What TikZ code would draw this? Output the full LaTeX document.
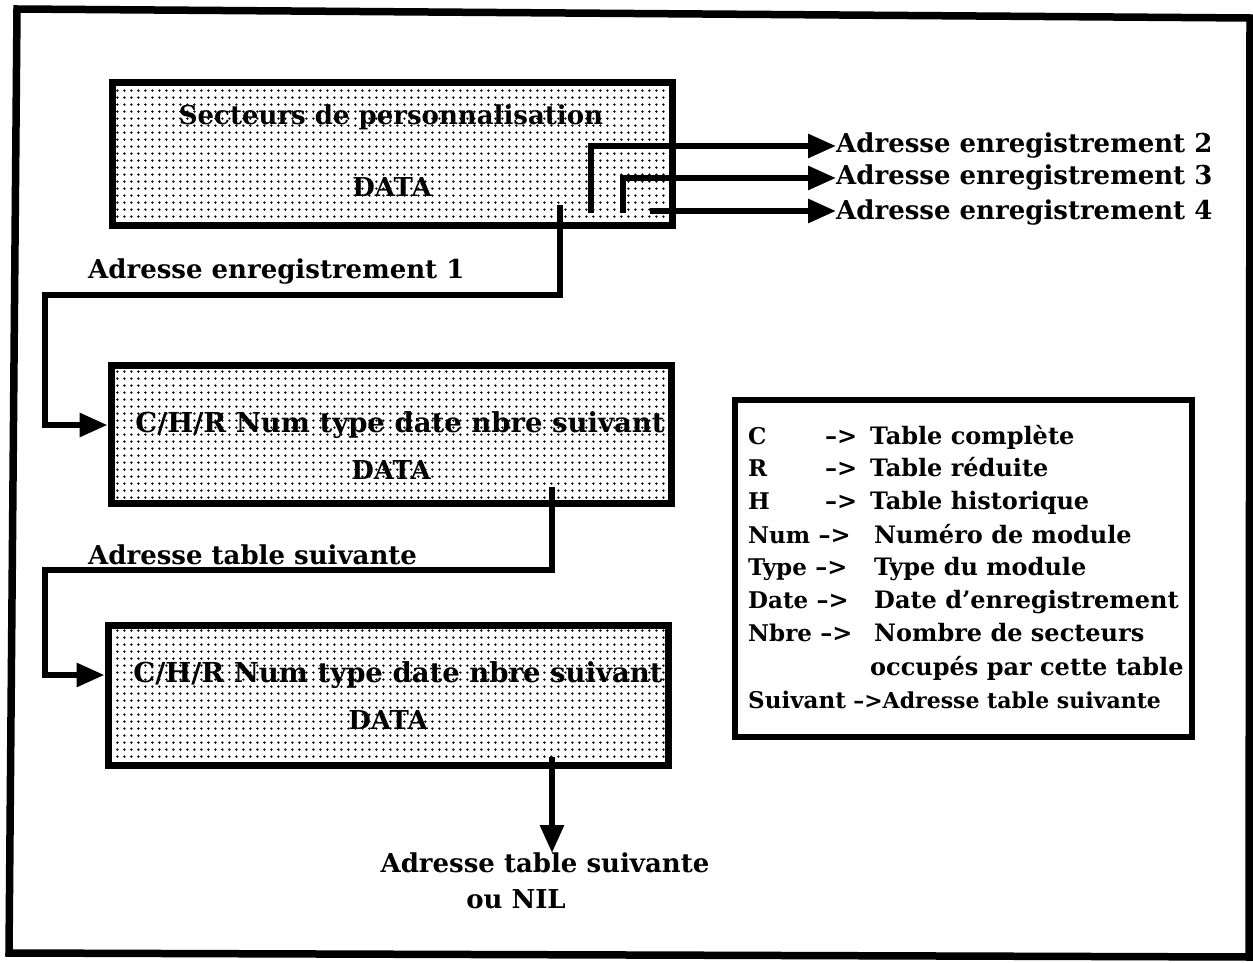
\documentclass[tikz,border=0pt]{standalone}
\usepackage{fontspec}
\setmainfont{DejaVu Serif}
\usetikzlibrary{patterns.meta,arrows.meta}
\begin{document}
\begin{tikzpicture}[x=1pt,y=-1pt,
  box/.style={draw, line width=7pt, pattern={Dots[distance=7.4pt,radius=1.4pt]}, pattern color=black, minimum width=560pt, inner sep=0pt},
  wire/.style={line width=6pt},
  arr/.style={wire, -{Triangle[length=28pt,width=23pt]}},
  lbl/.style={font=\fontsize{26}{30}\selectfont\bfseries, inner sep=0pt},
  btxt/.style={font=\fontsize{26}{28}\selectfont\bfseries, inner sep=0pt},
  ctxt/.style={font=\fontsize{27.5}{28}\selectfont\bfseries, inner sep=0pt},
  leg/.style={font=\fontsize{24}{26}\selectfont\bfseries, inner sep=0pt, anchor=base west},
  legk/.style={font=\fontsize{23}{26}\selectfont\bfseries, inner sep=0pt, anchor=base west},
  frame/.style={line width=7.5pt}
]
\useasboundingbox (0,0) rectangle (1253,963);
\fill[white] (0,0) rectangle (1253,963);
% outer frame
\draw[frame] (17,9) -- (1250,18) -- (1249,957) -- (9,953) -- cycle;

% boxes
\node[box, minimum height=142pt] (b1) at (392,154) {};
\node[btxt] (t1) at (391,117) {Secteurs de personnalisation};
\node[btxt] (d1) at (392,187) {DATA};

\node[box, minimum height=138pt] (b2) at (391,434) {};
\node[ctxt] (t2) at (400,425) {C/H/R Num type date nbre suivant};
\node[btxt] (d2) at (391,470) {DATA};

\node[box, minimum height=140pt] (b3) at (388,695) {};
\node[ctxt] (t3) at (398,675) {C/H/R Num type date nbre suivant};
\node[btxt] (d3) at (388,720) {DATA};

% labels
\node[lbl, anchor=west] (la1) at (88,272) {Adresse enregistrement 1};
\node[lbl, anchor=west] (la2) at (836,146) {Adresse enregistrement 2};
\node[lbl, anchor=west] (la3) at (836,178) {Adresse enregistrement 3};
\node[lbl, anchor=west] (la4) at (836,213) {Adresse enregistrement 4};
\node[lbl, anchor=west] (ls) at (88,555) {Adresse table suivante};
\node[lbl, anchor=north] (lnil) at (545,853) {Adresse table suivante};
\node[lbl] (lnil2) at (516,899) {ou NIL};

% connectors
\coordinate (s1) at (560,205);
\coordinate (sa) at (591,213);
\coordinate (sb) at (623,213);
\coordinate (sc) at (650,211);
\coordinate (s2) at (552,487);
\coordinate (s3) at (552,757);

\draw[arr] (s1) -- (560,295) -- (45,295) -- (45,425) -- (b2.west |- 45,425);
\draw[arr] (sa) -- (591,146) -- (la2.west);
\draw[arr] (sb) -- (623,178) -- (la3.west);
\draw[arr] (sc) -- (sc -| la4.west);
\draw[arr] (s2) -- (552,570) -- (45,570) -- (45,675) -- (b3.west |- 45,675);
\draw[arr] (s3) -- (s3 |- lnil.north);

% legend
\node[draw, line width=6pt, minimum width=457pt, minimum height=337pt, inner sep=0pt] (leg) at (963.5,568.5) {};
\node[legk] (k1) at (748,444) {C};
\node[leg] (a1) at (825,444) {\textendash>};
\node[leg] (v1) at (870,444) {Table complète};
\node[legk] (k2) at (748,476) {R};
\node[leg] (a2) at (825,476) {\textendash>};
\node[leg] (v2) at (870,476) {Table réduite};
\node[legk] (k3) at (748,509) {H};
\node[leg] (a3) at (825,509) {\textendash>};
\node[leg] (v3) at (870,509) {Table historique};
\node[legk] (k4) at (748,543) {Num};
\node[leg] (a4) at ([xshift=8pt]k4.base east) {\textendash>};
\node[leg] (v4) at (874,543) {Numéro de module};
\node[legk] (k5) at (748,575) {Type};
\node[leg] (a5) at ([xshift=8pt]k5.base east) {\textendash>};
\node[leg] (v5) at (874,575) {Type du module};
\node[legk] (k6) at (748,608) {Date};
\node[leg] (a6) at ([xshift=8pt]k6.base east) {\textendash>};
\node[leg] (v6) at (874,608) {Date d'enregistrement};
\node[legk] (k7) at (748,641) {Nbre};
\node[leg] (a7) at ([xshift=8pt]k7.base east) {\textendash>};
\node[leg] (v7) at (874,641) {Nombre de secteurs};
\node[leg] (v8) at (870,675) {occupés par cette table};
\node[legk] (k9) at (748,708) {Suivant};
\node[leg, font=\fontsize{22}{26}\selectfont\bfseries] (a9) at ([xshift=7pt]k9.base east) {\textendash>Adresse table suivante};
\end{tikzpicture}
\end{document}
